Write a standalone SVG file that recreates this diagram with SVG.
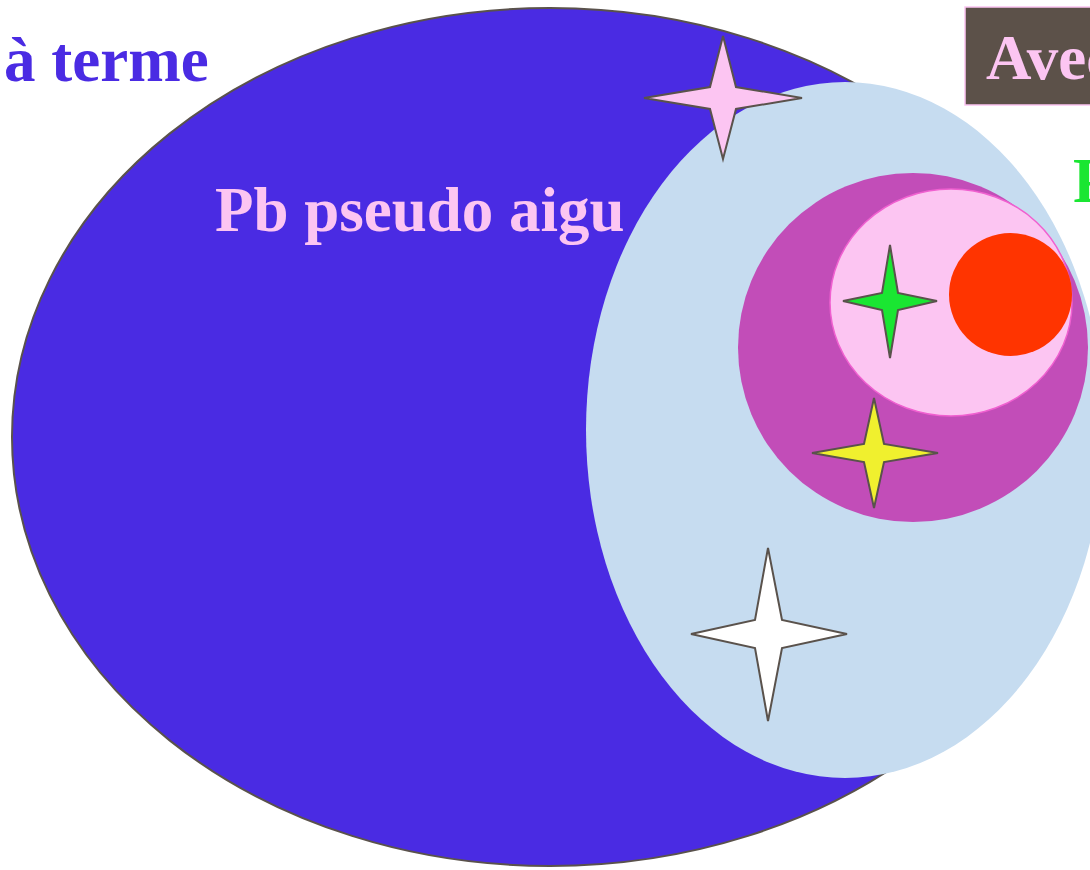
<svg xmlns="http://www.w3.org/2000/svg" width="1090" height="870" viewBox="0 0 1090 870">
<style>
.t{font-family:"Liberation Serif","Times New Roman",serif;font-weight:bold;font-size:63px}
.star{stroke:#5a524c;stroke-width:2;stroke-linejoin:miter}
</style>
<rect width="1090" height="870" fill="#ffffff"/>
<g id="ellipse-big"><ellipse cx="550" cy="437" rx="538" ry="429" fill="#4a2be3" stroke="#5a524c" stroke-width="2"/></g>
<g id="ellipse-lightblue"><ellipse cx="845" cy="430" rx="259" ry="348" fill="#c6dcf0"/></g>
<g id="circle-purple"><ellipse cx="913" cy="347.5" rx="175" ry="174.5" fill="#c24db8"/></g>
<g id="ellipse-pink"><ellipse cx="951" cy="302.5" rx="121" ry="113.5" fill="#fcc5f2" stroke="#f060d0" stroke-width="1.5"/></g>
<g id="circle-red"><circle cx="1010.5" cy="294.5" r="61.5" fill="#ff3400"/></g>
<g id="star-pink"><polygon class="star" fill="#fcc5f2" points="723,36 736,87 802,98 736,109 723,159 710,109 644,98 710,87"/></g>
<g id="star-green"><polygon class="star" fill="#1ae632" points="890,245 898,293 937,301 898,310 890,358 882,310 843,301 882,293"/></g>
<g id="star-yellow"><polygon class="star" fill="#f0f02e" points="874,398 884,444 938,453 884,462 874,508 864,462 812,453 864,444"/></g>
<g id="star-white"><polygon class="star" fill="#ffffff" points="768,548 782,620 847,634 782,648 768,721 755,648 691,634 755,620"/></g>
<g id="label-terme"><text class="t" x="4" y="81" fill="#4a2be3">à terme</text></g>
<g id="label-pseudo"><text class="t" x="215" y="231" fill="#fcc5f2">Pb pseudo aigu</text></g>
<g id="box-avec"><rect x="965" y="7" width="140" height="98" fill="#5c5149" stroke="#fcc5f2" stroke-width="1.5"/><text class="t" x="986" y="79" fill="#fcc5f2" font-size="66">Avec</text></g>
<g id="label-green"><text class="t" x="1073" y="202" fill="#1ae632">P</text></g>
<g id="connectors"/>
</svg>
